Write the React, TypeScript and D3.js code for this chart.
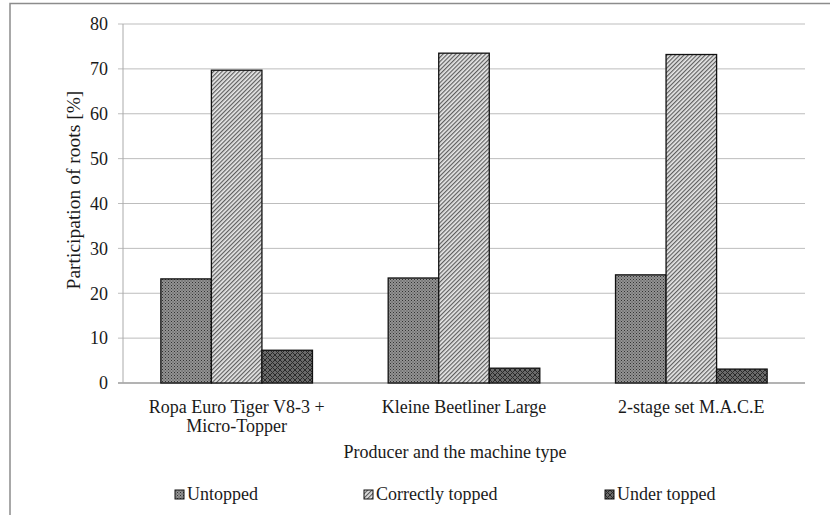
import React from "react";
import * as d3 from "d3";

const categories = ["Ropa Euro Tiger V8-3 +\nMicro-Topper", "Kleine Beetliner Large", "2-stage set M.A.C.E"];
const seriesNames = ["Untopped", "Correctly topped", "Under topped"];
const untopped = [23.2, 23.4, 24.1];
const correctlyTopped = [69.7, 73.5, 73.2];
const underTopped = [7.3, 3.3, 3.1];
const yTicks = [0, 10, 20, 30, 40, 50, 60, 70, 80];

const W = 830, H = 515;
const M = { left: 123, right: 805, top: 24, bottom: 383 };
const FONT = "'Liberation Serif', 'Times New Roman', serif";

export default function App() {
  const series = [untopped, correctlyTopped, underTopped];
  const x0 = d3.scaleBand<number>().domain([0, 1, 2]).range([M.left, M.right]).paddingInner(0).paddingOuter(0);
  const groupW = x0.bandwidth() * 0.667;
  const x1 = d3.scaleBand<number>().domain([0, 1, 2]).range([0, groupW]);
  const y = d3.scaleLinear().domain([0, 80]).range([M.bottom, M.top]);
  const fills = ["url(#pUntopped)", "url(#pCorrect)", "url(#pUnder)"];
  const legendX = [175, 364, 605];

  return (
    <svg width={W} height={H} style={{ position: "absolute", left: 0, top: 0 }}>
      <defs>
        <pattern id="pUntopped" width="3" height="3" patternUnits="userSpaceOnUse">
          <rect width="3" height="3" fill="#939393" />
          <rect x="0" y="0" width="1" height="1" fill="#333" />
          <rect x="1.5" y="1.5" width="1" height="1" fill="#444" />
        </pattern>
        <pattern id="pCorrect" width="3" height="3" patternUnits="userSpaceOnUse" patternTransform="rotate(45)">
          <rect width="3" height="3" fill="#e8e8e8" />
          <rect x="0" y="0" width="1.2" height="3" fill="#5e5e5e" />
        </pattern>
        <pattern id="pUnder" width="5" height="5" patternUnits="userSpaceOnUse">
          <rect width="5" height="5" fill="#6a6a6a" />
          <path d="M0,0L5,5M5,0L0,5" stroke="#2a2a2a" strokeWidth="1" />
        </pattern>
      </defs>
      {/* outer border */}
      <path d={`M10,${H}V3.5H${W}`} fill="none" stroke="#8c8c8c" strokeWidth="1.5" />
      {/* gridlines */}
      {yTicks.map((t) => (
        <g key={t}>
          <line x1={M.left - 5} x2={M.right} y1={y(t)} y2={y(t)} stroke={t === 0 ? "#9a9a9a" : "#bdbdbd"} strokeWidth={t === 0 ? 1.5 : 1} />
          <text x={108} y={y(t)} dy="0.35em" textAnchor="end" fontFamily={FONT} fontSize="18" fill="#1a1a1a">{t}</text>
        </g>
      ))}
      <line x1={M.left} x2={M.left} y1={M.top} y2={M.bottom} stroke="#aaaaaa" strokeWidth="1" />
      {/* bars */}
      {categories.map((c, ci) => {
        const gx = (x0(ci) as number) + (x0.bandwidth() - groupW) / 2;
        return (
          <g key={ci}>
            {series.map((s, si) => (
              <rect key={si} x={gx + (x1(si) as number)} y={y(s[ci])} width={x1.bandwidth()} height={y(0) - y(s[ci])}
                fill={fills[si]} stroke="#111" strokeWidth="1.3" />
            ))}
            {c.split("\n").map((line, li) => (
              <text key={li} x={(x0(ci) as number) + x0.bandwidth() / 2} y={413 + li * 19} textAnchor="middle" fontFamily={FONT} fontSize="18" fill="#1a1a1a">{line}</text>
            ))}
          </g>
        );
      })}
      {/* axis titles */}
      <text transform={`translate(80,190) rotate(-90)`} textAnchor="middle" fontFamily={FONT} fontSize="19.5" fill="#1a1a1a">Participation of roots [%]</text>
      <text x={(M.left + M.right) / 2 - 9} y={458} textAnchor="middle" fontFamily={FONT} fontSize="18" fill="#1a1a1a">Producer and the machine type</text>
      {/* legend */}
      {seriesNames.map((n, i) => (
        <g key={n}>
          <rect x={legendX[i]} y={490} width={9} height={9} fill={fills[i]} stroke="#111" strokeWidth="1" />
          <text x={legendX[i] + 12} y={500} fontFamily={FONT} fontSize="18" fill="#1a1a1a">{n}</text>
        </g>
      ))}
    </svg>
  );
}
